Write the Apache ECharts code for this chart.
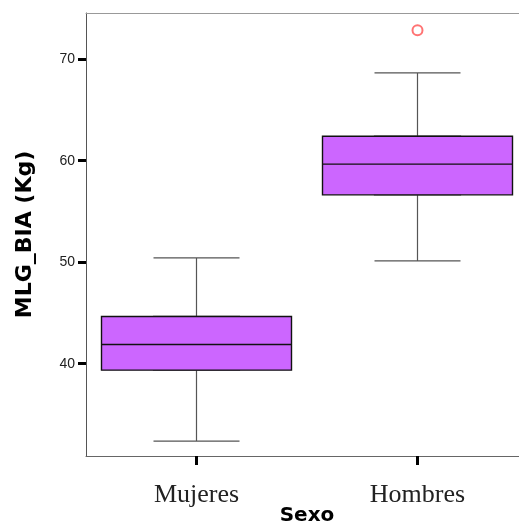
<!DOCTYPE html>
<html>
<head>
<meta charset="utf-8">
<script src="https://cdn.jsdelivr.net/npm/echarts@6/dist/echarts.min.js"></script>
<style>
  html, body { margin: 0; padding: 0; background: #fff; }
  #main { width: 519px; height: 529px; }
</style>
</head>
<body>
<div id="main"></div>
<script>
  // categorias del eje X
  var categorias = ['Mujeres', 'Hombres'];
  // [min, Q1, mediana, Q3, max] por sexo
  var cajaMujeres = [32.36, 39.36, 41.89, 44.65, 50.42];
  var cajaHombres = [50.13, 56.63, 59.66, 62.41, 68.65];
  // valores atipicos [categoria, valor]
  var atipicos = [['Hombres', 72.86]];
  // marcas del eje Y
  var marcasY = [40, 50, 60, 70];

  var cajas = [cajaMujeres, cajaHombres];
  // solo la caja (sin bigotes), para dibujarla ancha encima
  var soloCaja = cajas.map(function(c) {
    return [c[1], c[1], c[2], c[3], c[3]];
  });

  var node = document.getElementById('main');
  var chart = echarts.init(node, null, { renderer: 'canvas' });

  var option = {
    backgroundColor: '#fff',
    animation: false,
    grid: {
      left: 86,
      top: 13,
      width: 442,
      height: 443,
      outerBoundsMode: 'none',
      containLabel: false,
      show: false
    },
    xAxis: [{
      type: 'category',
      data: categorias,
      name: 'Sexo',
      nameLocation: 'middle',
      nameGap: 50,
      nameMoveOverlap: false,
      nameTextStyle: {
        fontFamily: 'DejaVu Sans',
        fontWeight: 'bold',
        fontSize: 20,
        color: '#000'
      },
      axisLine: { show: true, lineStyle: { color: '#666', width: 1 } },
      axisTick: {
        show: true,
        alignWithLabel: true,
        length: 9,
        lineStyle: { color: '#000', width: 3 }
      },
      axisLabel: {
        margin: 26,
        fontFamily: 'Liberation Serif',
        fontSize: 26,
        color: '#222'
      },
      splitLine: { show: false }
    }, {
      // eje superior: solo la linea del marco
      type: 'category',
      data: categorias,
      position: 'top',
      axisLine: { show: true, lineStyle: { color: '#999', width: 1 } },
      axisTick: { show: false },
      axisLabel: { show: false },
      splitLine: { show: false }
    }],
    yAxis: {
      type: 'value',
      min: 30.9,
      max: 74.55,
      name: 'MLG_BIA (Kg)',
      nameLocation: 'middle',
      nameGap: 50,
      nameTextStyle: {
        fontFamily: 'DejaVu Sans',
        fontWeight: 'bold',
        fontSize: 22,
        color: '#000'
      },
      axisLine: { show: true, lineStyle: { color: '#555', width: 1 } },
      axisTick: {
        show: true,
        length: 8,
        customValues: marcasY,
        lineStyle: { color: '#000', width: 3 }
      },
      axisLabel: {
        margin: 11,
        customValues: marcasY,
        fontFamily: 'Liberation Sans',
        fontSize: 14,
        color: '#222'
      },
      splitLine: { show: false }
    },
    series: [{
      // bigotes
      name: 'Bigotes',
      type: 'boxplot',
      xAxisIndex: 0,
      boxWidth: [86, 86],
      z: 2,
      itemStyle: {
        color: '#fff',
        borderColor: '#555',
        borderWidth: 1.2
      },
      data: cajas
    }, {
      // caja
      name: 'MLG_BIA',
      type: 'boxplot',
      xAxisIndex: 1,
      boxWidth: [190, 190],
      z: 3,
      itemStyle: {
        color: '#cc66ff',
        borderColor: '#111',
        borderWidth: 1.4
      },
      data: soloCaja
    }, {
      name: 'Atipicos',
      type: 'scatter',
      symbol: 'emptyCircle',
      symbolSize: 10,
      z: 4,
      itemStyle: { color: '#ff5050', borderWidth: 1.3 },
      data: atipicos
    }]
  };

  chart.setOption(option);
</script>
</body>
</html>
